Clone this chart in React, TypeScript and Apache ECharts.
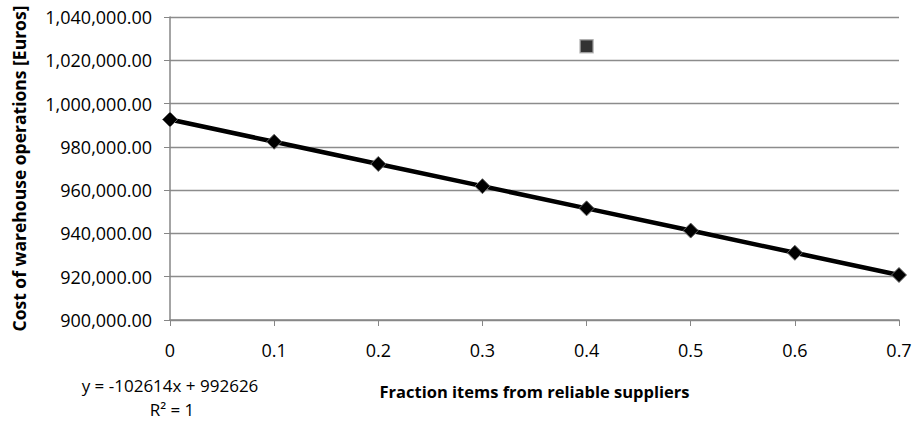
import React, { useEffect, useRef } from "react";
import * as echarts from "echarts";

const fractions = [0, 0.1, 0.2, 0.3, 0.4, 0.5, 0.6, 0.7];
const costs = [992626, 982365, 972103, 961842, 951580, 941319, 931058, 920796];
const outlierX = [0.4];
const outlierY = [1026500];
const equationText = "y = -102614x + 992626";
const r2Text = "R² = 1";
const xAxisTitle = "Fraction items from reliable suppliers";
const yAxisTitle = "Cost of warehouse operations [Euros]";

const FONT = "'Open Sans'";

export default function App() {
  const ref = useRef<HTMLDivElement>(null);
  useEffect(() => {
    if (!ref.current) return;
    const chart = echarts.init(ref.current, undefined, { renderer: "svg" });
    const fmt = (v: number) =>
      v.toLocaleString("en-US", { minimumFractionDigits: 2, maximumFractionDigits: 2 });
    chart.setOption({
      animation: false,
      backgroundColor: "#ffffff",
      textStyle: { fontFamily: FONT },
      grid: { left: 170, right: 18, top: 17, bottom: 104, containLabel: false },
      xAxis: {
        type: "value",
        min: 0,
        max: 0.7,
        interval: 0.1,
        name: xAxisTitle,
        nameLocation: "middle",
        nameGap: 63,
        nameTextStyle: { fontFamily: FONT, fontWeight: "bold", fontSize: 16.5, color: "#000" },
        axisLine: { show: true, onZero: false, lineStyle: { color: "#868686", width: 1.5 } },
        axisTick: { show: true, inside: false, length: 6, lineStyle: { color: "#868686" } },
        splitLine: { show: false },
        axisLabel: {
          margin: 21,
          fontFamily: FONT,
          fontSize: 18,
          color: "#000",
          formatter: (v: number) => String(Math.round(v * 10) / 10),
        },
      },
      yAxis: {
        type: "value",
        min: 900000,
        max: 1040000,
        interval: 20000,
        name: yAxisTitle,
        nameLocation: "middle",
        nameGap: 142,
        nameRotate: 90,
        nameTextStyle: { fontFamily: FONT, fontWeight: "bold", fontSize: 17.5, color: "#000" },
        axisLine: { show: true, lineStyle: { color: "#868686", width: 1.5 } },
        axisTick: { show: true, inside: false, length: 6, lineStyle: { color: "#868686" } },
        splitLine: { show: true, lineStyle: { color: "#8c8c8c", width: 1.3 } },
        axisLabel: {
          margin: 18,
          fontFamily: FONT,
          fontSize: 18,
          color: "#000",
          formatter: fmt,
        },
      },
      series: [
        {
          type: "line",
          data: fractions.map((x, i) => [x, costs[i]]),
          symbol: "diamond",
          symbolSize: 15,
          lineStyle: { color: "#000", width: 4.5 },
          itemStyle: { color: "#000", borderColor: "#666", borderWidth: 1 },
          z: 3,
        },
        {
          type: "scatter",
          data: outlierX.map((x, i) => [x, outlierY[i]]),
          symbol: "rect",
          symbolSize: 13,
          itemStyle: { color: "#000", borderColor: "#aaa", borderWidth: 1.5 },
          z: 4,
        },
      ],
      graphic: [
        {
          type: "text",
          x: 170,
          y: 385,
          style: {
            text: equationText,
            fontFamily: FONT,
            fontSize: 17,
            fill: "#000",
            align: "center",
            verticalAlign: "middle",
          },
        },
        {
          type: "text",
          x: 172,
          y: 409,
          style: {
            text: r2Text,
            fontFamily: FONT,
            fontSize: 17,
            fill: "#000",
            align: "center",
            verticalAlign: "middle",
          },
        },
      ],
    });
    return () => chart.dispose();
  }, []);
  return (
    <div
      ref={ref}
      style={{ position: "fixed", left: 0, top: 0, width: 917, height: 424, background: "#fff" }}
    />
  );
}
